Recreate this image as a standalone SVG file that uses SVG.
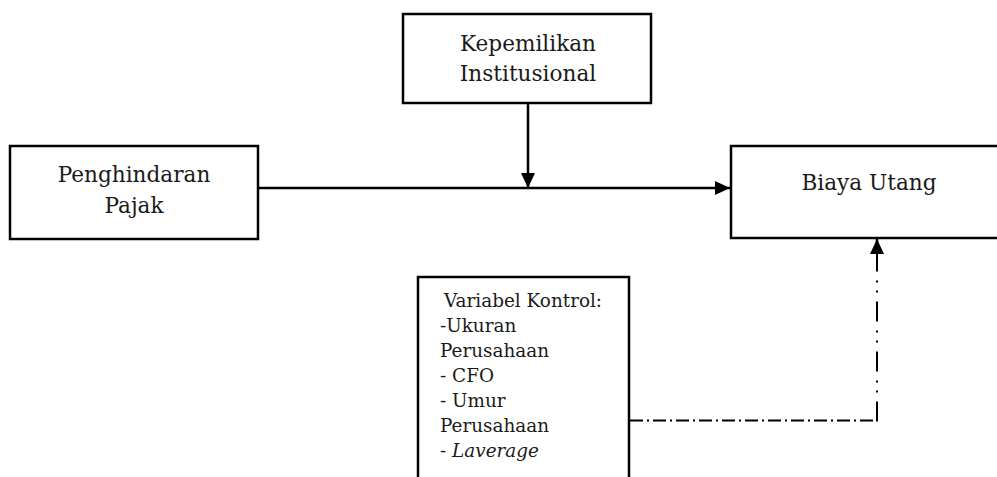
<svg xmlns="http://www.w3.org/2000/svg" width="997" height="477" viewBox="0 0 997 477">
<style>
.box{fill:#fff;stroke:#000;stroke-width:2.5}
.t{font-family:"DejaVu Serif","Liberation Serif",serif;font-size:21.6px;fill:#1a1a1a;text-anchor:middle}
.s{font-family:"DejaVu Serif","Liberation Serif",serif;font-size:18.4px;fill:#1a1a1a}
.ln{fill:none;stroke:#000;stroke-width:2.5}
.dd{fill:none;stroke:#000;stroke-width:2}
</style>
<defs>
<marker id="ah" markerUnits="userSpaceOnUse" markerWidth="16" markerHeight="16" viewBox="0 0 16 16" refX="15" refY="8" orient="auto">
<path d="M0,1 L15,8 L0,15 Z" fill="#000"/>
</marker>
</defs>
<g id="kepemilikan">
<rect class="box" x="403" y="14" width="248" height="89"/>
<text class="t" x="528" y="51">Kepemilikan</text>
<text class="t" x="528" y="81">Institusional</text>
</g>
<g id="penghindaran">
<rect class="box" x="10" y="146" width="248" height="93"/>
<text class="t" x="134" y="182">Penghindaran</text>
<text class="t" x="134" y="213">Pajak</text>
</g>
<g id="biaya">
<rect class="box" x="731" y="146" width="280" height="92"/>
<text class="t" x="869" y="190">Biaya Utang</text>
</g>
<g id="kontrol">
<rect class="box" x="418" y="277" width="211" height="215"/>
<text class="s" x="444" y="307">Variabel Kontrol:</text>
<text class="s" x="440" y="332">-Ukuran</text>
<text class="s" x="440" y="357">Perusahaan</text>
<text class="s" x="440" y="382">- CFO</text>
<text class="s" x="440" y="407">- Umur</text>
<text class="s" x="440" y="432">Perusahaan</text>
<text class="s" x="440" y="457">- <tspan font-style="italic">Laverage</tspan></text>
</g>
<g id="connectors">
<line class="ln" x1="258" y1="188" x2="730" y2="188" marker-end="url(#ah)"/>
<line class="ln" x1="528" y1="103" x2="528" y2="188" marker-end="url(#ah)"/>
<line class="dd" x1="630" y1="420.5" x2="877" y2="420.5" stroke-dasharray="13 4 2 4"/>
<line class="dd" x1="877" y1="421.5" x2="877" y2="250" stroke-dasharray="20 9 2 8 2 9"/>
<line class="ln" x1="877" y1="252" x2="877" y2="239" marker-end="url(#ah)"/>
</g>
</svg>
